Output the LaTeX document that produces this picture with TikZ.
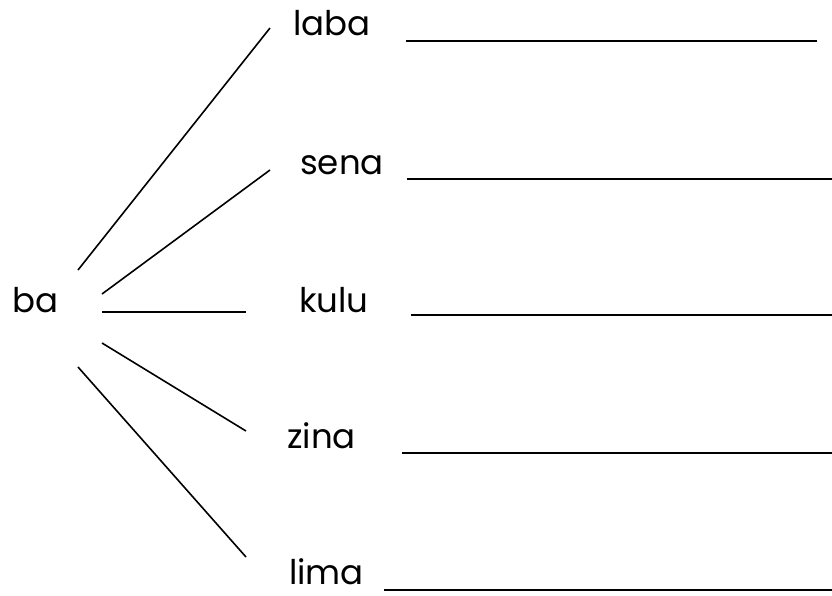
\documentclass[tikz,border=0pt]{standalone}
\usepackage{fontspec}
\setmainfont{Poppins}
\usepackage{tikz}

\begin{document}
\begin{tikzpicture}[x=1pt, y=-1pt,
    word/.style={anchor=base west, inner sep=0pt, font=\fontsize{34}{40}\selectfont},
    fan/.style={black, line width=1.6pt},
    blank/.style={black, line width=1.9pt}]
    \useasboundingbox (0, 0) rectangle (832, 595);
    % stem word
    \node[word] (ba) at (12, 312) {ba};
    % word column
    \node[word] (laba) at (293, 35) {laba};
    \node[word] (sena) at (300, 174) {sena};
    \node[word] (kulu) at (299, 312) {kulu};
    \node[word] (zina) at (287, 448) {zina};
    \node[word] (lima) at (289, 584) {lima};

    % line ends
    \coordinate (ba-1) at (78, 270);
    \coordinate (ba-2) at (102, 294);
    \coordinate (ba-3) at (102, 312);
    \coordinate (ba-4) at (102, 343);
    \coordinate (ba-5) at (78, 367);
    \coordinate (laba-in) at (270, 28);
    \coordinate (sena-in) at (270, 170);
    \coordinate (kulu-in) at (246, 312);
    \coordinate (zina-in) at (246, 431);
    \coordinate (lima-in) at (246, 557);

    \draw[fan] (ba-1) -- (laba-in);
    \draw[fan] (ba-2) -- (sena-in);
    \draw[fan] (ba-3) -- (kulu-in);
    \draw[fan] (ba-4) -- (zina-in);
    \draw[fan] (ba-5) -- (lima-in);

    % blanks to write on
    \draw[blank] (406, 41) -- (817, 41);
    \draw[blank] (407, 179) -- (832, 179);
    \draw[blank] (411, 315) -- (832, 315);
    \draw[blank] (402, 453) -- (832, 453);
    \draw[blank] (384, 590) -- (832, 590);
\end{tikzpicture}
\end{document}
